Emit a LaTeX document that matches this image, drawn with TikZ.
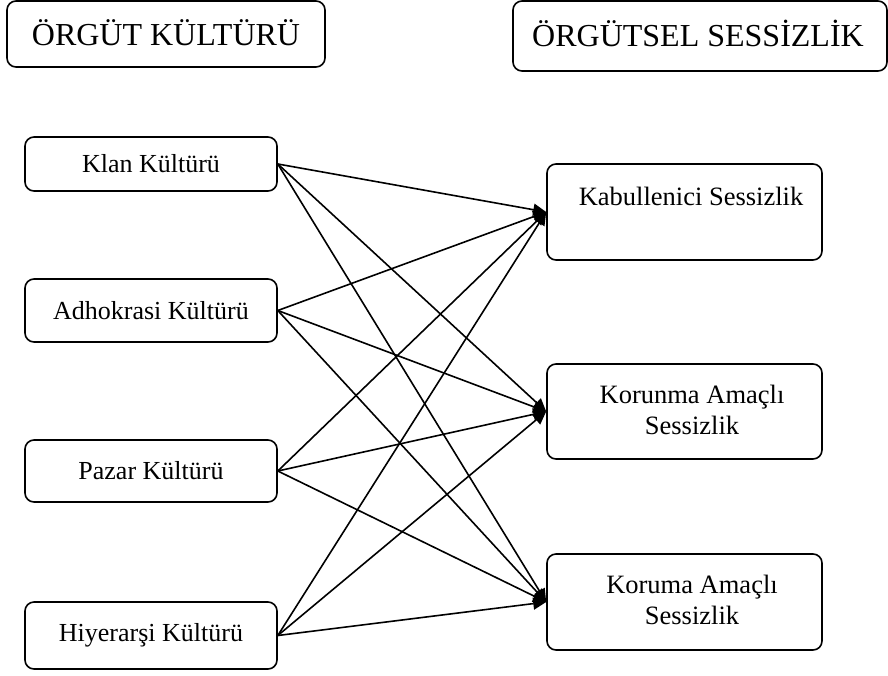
\documentclass[tikz,border=0pt]{standalone}
\usepackage{fontspec}
\setmainfont{Liberation Serif}
\usetikzlibrary{arrows.meta}
\begin{document}
\begin{tikzpicture}[x=1pt,y=-1pt,
  box/.style={draw, line width=1.6pt, rounded corners=9pt, inner sep=0pt},
  txt/.style={font=\fontsize{26}{31}\selectfont, inner sep=0pt, align=center},
  rtxt/.style={font=\fontsize{26.5}{31}\selectfont, inner sep=0pt, align=center},
  ttl/.style={font=\fontsize{32}{38}\selectfont, inner sep=0pt},
  arr/.style={line width=1.6pt, -{Triangle[length=13pt,width=12pt]}}]
\useasboundingbox (0,0) rectangle (888,675);
% titles
\node[box, minimum width=318pt, minimum height=66pt] (t1) at (166,34) {};
\node[ttl] (t1t) at (166,33) {ÖRGÜT KÜLTÜRÜ};
\node[box, minimum width=374pt, minimum height=70pt] (t2) at (700,36) {};
\node[ttl] (t2t) at (698,33) {ÖRGÜTSEL SESSİZLİK};
% left boxes
\node[box, minimum width=252pt, minimum height=54pt] (k) at (151,164) {};
\node[txt] (kt) at (151,164) {Klan Kültürü};
\node[box, minimum width=252pt, minimum height=63pt] (a) at (151,310.5) {};
\node[txt] (at) at (151,310.5) {Adhokrasi Kültürü};
\node[box, minimum width=252pt, minimum height=62pt] (p) at (151,471) {};
\node[txt] (pt) at (151,471) {Pazar Kültürü};
\node[box, minimum width=252pt, minimum height=67pt] (h) at (151,635.5) {};
\node[txt] (ht) at (151,635.5) {Hiyerarşi Kültürü};
% right boxes
\node[box, minimum width=275pt, minimum height=96pt] (r1) at (684.5,212) {};
\node[rtxt] (r1t) at (691,196) {Kabullenici Sessizlik};
\node[box, minimum width=275pt, minimum height=95pt] (r2) at (684.5,411.5) {};
\node[rtxt] (r2t) at (692,410) {Korunma Amaçlı\\Sessizlik};
\node[box, minimum width=275pt, minimum height=96pt] (r3) at (684.5,602) {};
\node[rtxt] (r3t) at (692,600) {Koruma Amaçlı\\Sessizlik};
% connectors
\foreach \s in {k,a,p,h}{
  \foreach \t in {r1,r2,r3}{
    \draw[arr] (\s.east) -- (\t.west);
  }
}
\end{tikzpicture}
\end{document}
